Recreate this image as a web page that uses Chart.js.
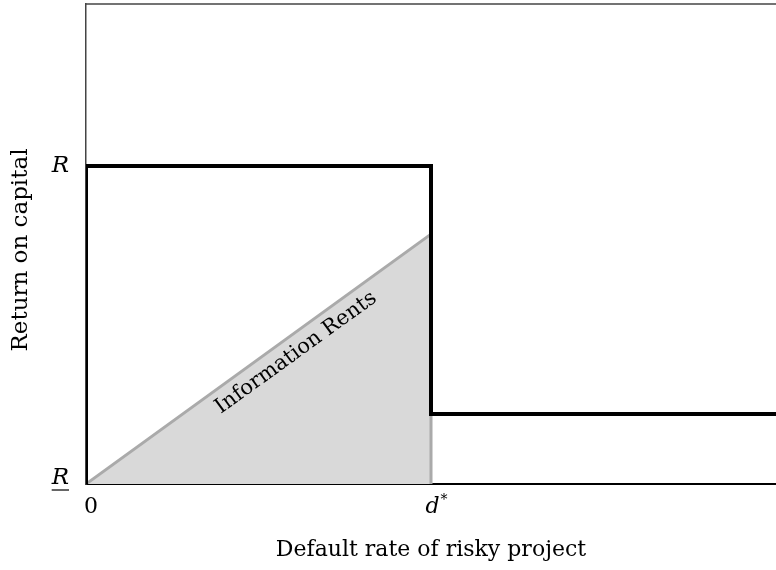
<!DOCTYPE html>
<html lang="en">
<head>
<meta charset="UTF-8">
<title>Information Rents</title>
<script src="https://cdn.jsdelivr.net/npm/chart.js"></script>
<style>
  html, body { margin: 0; padding: 0; background: #fff; }
  #wrap { width: 776px; height: 570px; }
</style>
</head>
<body>
<div id="wrap"><canvas id="chart"></canvas></div>
<script>
  // data
  const xTickValues = [0, 0.5];
  const xTickLabels = ['0', 'd'];
  const xTickSup = ['', '*'];
  const yTickValues = [0, 1];
  const yTickLabels = ['R', 'R'];      // lower one is underlined
  const yTickUnderline = [true, false];
  const stepX = [0, 0, 0.5, 0.5, 1];
  const stepY = [0, 1, 1, 0.22, 0.22];
  const rentX = [0, 0.5, 0.5];
  const rentY = [0, 0.786, 0];
  const rentLabel = 'Information Rents';
  const xTitle = 'Default rate of risky project';
  const yTitle = 'Return on capital';

  const serif = '"DejaVu Serif", "Liberation Serif", serif';

  const toPoints = (xs, ys) => xs.map((x, i) => ({ x: x, y: ys[i] }));

  const decor = {
    id: 'decor',
    beforeDatasetsDraw(chart) {
      const { ctx, chartArea: a } = chart;
      ctx.save();
      ctx.strokeStyle = '#444';
      ctx.lineWidth = 1.5;
      ctx.beginPath();
      ctx.moveTo(a.left, a.top);
      ctx.lineTo(a.right + 2, a.top);
      ctx.stroke();
      ctx.restore();
    },
    afterDraw(chart) {
      const { ctx, chartArea: a, scales } = chart;
      const xs = scales.x, ys = scales.y;
      ctx.save();
      ctx.fillStyle = '#000';
      ctx.strokeStyle = '#000';

      // y tick labels
      ctx.font = 'italic 23px ' + serif;
      ctx.textAlign = 'right';
      ctx.textBaseline = 'middle';
      yTickValues.forEach((v, i) => {
        const py = ys.getPixelForValue(v) - (yTickUnderline[i] ? 6 : 0);
        const px = a.left - 17;
        ctx.fillText(yTickLabels[i], px, py);
        if (yTickUnderline[i]) {
          const w = ctx.measureText(yTickLabels[i]).width;
          ctx.lineWidth = 1.2;
          ctx.beginPath();
          ctx.moveTo(px - w, py + 12);
          ctx.lineTo(px, py + 12);
          ctx.stroke();
        }
      });

      // x tick labels
      ctx.textBaseline = 'alphabetic';
      xTickValues.forEach((v, i) => {
        const main = (i === 0 ? '' : 'italic ') + '22px ' + serif;
        ctx.font = main;
        const w = ctx.measureText(xTickLabels[i]).width;
        ctx.font = '14px ' + serif;
        const ws = xTickSup[i] ? ctx.measureText(xTickSup[i]).width : 0;
        const left = xs.getPixelForValue(v) + 5 - (w + ws) / 2;
        const base = a.bottom + 29;
        ctx.textAlign = 'left';
        ctx.font = main;
        ctx.fillText(xTickLabels[i], left, base);
        if (xTickSup[i]) {
          ctx.font = '14px ' + serif;
          ctx.fillText(xTickSup[i], left + w + 1, base - 9);
        }
      });

      // axis titles
      ctx.font = '22px ' + serif;
      ctx.textAlign = 'center';
      ctx.textBaseline = 'middle';
      ctx.fillText(xTitle, (a.left + a.right) / 2, a.bottom + 66);
      ctx.save();
      ctx.translate(21, (a.top + a.bottom) / 2 + 6);
      ctx.rotate(-Math.PI / 2);
      ctx.font = '23px ' + serif;
      ctx.fillText(yTitle, 0, 0);
      ctx.restore();

      // rotated label along the triangle edge
      const x0 = xs.getPixelForValue(rentX[0]), y0 = ys.getPixelForValue(rentY[0]);
      const x1 = xs.getPixelForValue(rentX[1]), y1 = ys.getPixelForValue(rentY[1]);
      const ang = Math.atan2(y1 - y0, x1 - x0);
      const t = 0.58;
      const cx = x0 + (x1 - x0) * t, cy = y0 + (y1 - y0) * t;
      const off = 17;
      ctx.translate(cx - Math.sin(ang) * off, cy + Math.cos(ang) * off);
      ctx.rotate(ang);
      ctx.font = '21px ' + serif;
      ctx.textAlign = 'center';
      ctx.fillText(rentLabel, 0, 0);
      ctx.restore();
    }
  };

  new Chart(document.getElementById('chart'), {
    type: 'line',
    data: {
      datasets: [
        {
          data: toPoints(stepX, stepY),
          borderColor: '#000',
          borderWidth: 4,
          pointRadius: 0,
          fill: false,
          tension: 0,
          clip: 0,
          order: 1
        },
        {
          data: toPoints(rentX, rentY),
          borderColor: '#aaaaaa',
          backgroundColor: '#d9d9d9',
          borderWidth: 3,
          pointRadius: 0,
          fill: 'origin',
          tension: 0,
          order: 2
        }
      ]
    },
    options: {
      responsive: true,
      maintainAspectRatio: false,
      animation: false,
      layout: { padding: { top: 4, right: 0, left: 0, bottom: 0 } },
      plugins: { legend: { display: false }, tooltip: { enabled: false } },
      scales: {
        x: {
          type: 'linear',
          min: 0,
          max: 1,
          grid: { display: false },
          border: { display: true, color: '#000', width: 2 },
          ticks: { display: false },
          afterFit(s) { s.height = 86; }
        },
        y: {
          type: 'linear',
          min: 0,
          max: 1.51,
          grid: { display: false },
          border: { display: true, color: '#444', width: 1.5 },
          ticks: { display: false },
          afterFit(s) { s.width = 86; }
        }
      }
    },
    plugins: [decor]
  });
</script>
</body>
</html>
